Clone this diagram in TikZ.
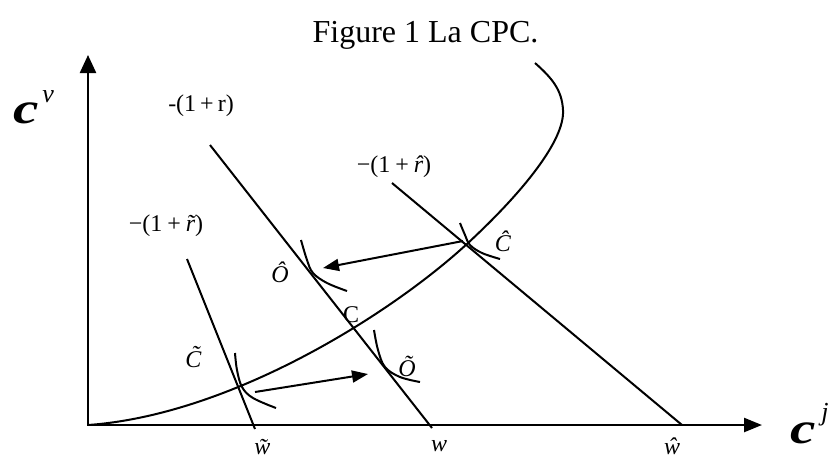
\documentclass[tikz,border=0pt]{standalone}
\usepackage{fontspec}
\usepackage{graphicx}
\setmainfont{Liberation Serif}
\usetikzlibrary{arrows.meta}
\newcommand\hatr{\accent"02C6 r}
\newcommand\tilr{\accent"02DC r}

\begin{document}
\begin{tikzpicture}[x=0.5pt, y=-0.5pt, line width=1pt,
    lbl/.style={inner sep=0pt, font=\fontsize{12}{12}\selectfont},
    axlbl/.style={anchor=base west, inner sep=0pt},
    axis/.style={line width=1.2pt, {Triangle[length=9pt, width=8pt]}-{Triangle[length=9pt, width=7pt]}},
    move/.style={-{Triangle[length=8pt, width=6pt]}}]
    \useasboundingbox (0,0) rectangle (835,457);

    % Title
    \node[anchor=base, inner sep=0pt, font=\fontsize{16}{16}\selectfont] (title) at (425.5,42) {Figure 1 La CPC.};

    % Axes
    \coordinate (O) at (88,425);
    \coordinate (Ytip) at (88,55);
    \coordinate (Xtip) at (762,425);
    \draw[axis] (Ytip) -- (O) -- (Xtip);
    \node[axlbl] (cv) at (12,123) {{\fontsize{22}{22}\selectfont\bfseries\itshape\scalebox{1.3}[1]{c}}\kern2pt{\fontsize{13}{13}\selectfont\itshape\raisebox{10.5pt}{v}}};
    \node[axlbl] (cj) at (789,443) {{\fontsize{22}{22}\selectfont\bfseries\itshape\scalebox{1.3}[1]{c}}\kern3pt{\fontsize{13}{13}\selectfont\itshape\raisebox{11.5pt}{j}}};

    % Budget lines
    \coordinate (Rtop) at (210,145);
    \coordinate (w) at (432,428);
    \coordinate (Rhtop) at (392,183);
    \coordinate (wh) at (682,425);
    \coordinate (Rttop) at (187,259);
    \coordinate (wt) at (255,429);
    \draw (Rtop) -- (w);
    \draw (Rhtop) -- (wh);
    \draw (Rttop) -- (wt);
    \node[lbl] (r) at (201,106) {-(1\kern2pt+\kern2pt r)};
    \node[lbl] (rh) at (394,167) {−(1\kern2.5pt+\kern2.5pt\textit{\hatr})};
    \node[lbl] (rt) at (166,226) {−(1\kern2.5pt+\kern2.5pt\textit{\tilr})};
    \node[lbl] (lw) at (439,446) {\textit{w}};
    \node[lbl] (lwh) at (672,446) {\textit{\^w}};
    \node[lbl] (lwt) at (267,447) {\textit{\~w}};

    % CPC curve
    \draw (O) .. controls (230,415) and (390,315) .. (468,243)
        .. controls (523,192) and (565,140) .. (563,110)
        .. controls (562,90) and (552,78) .. (535,63);

    % Indifference curves
    \draw plot[smooth, tension=0.6] coordinates {(235,353) (237,370) (242,387) (253,398) (276,408)};
    \draw plot[smooth, tension=0.6] coordinates {(301,240) (307,260) (313,273) (327,283) (347,291)};
    \draw plot[smooth, tension=0.6] coordinates {(374,330) (378,350) (385,367) (400,377) (420,382)};
    \draw plot[smooth, tension=0.6] coordinates {(460,223) (465,235) (470,245) (482,253) (500,259)};

    % Points
    \coordinate (Ch) at (463,241);
    \coordinate (Oh) at (323,268);
    \coordinate (Ct) at (255,392);
    \coordinate (Ot) at (368,374);
    \node[lbl] (lCh) at (503,241) {\textit{\^C}};
    \node[lbl] (lOh) at (280,272) {\textit{\^O}};
    \node[lbl] (lC) at (351,315) {C};
    \node[lbl] (lCt) at (198,357) {\textit{\~C}};
    \node[lbl] (lOt) at (407,366) {\textit{\~O}};

    % Shifts
    \draw[move] (Ch) -- (Oh);
    \draw[move] (Ct) -- (Ot);
\end{tikzpicture}
\end{document}
